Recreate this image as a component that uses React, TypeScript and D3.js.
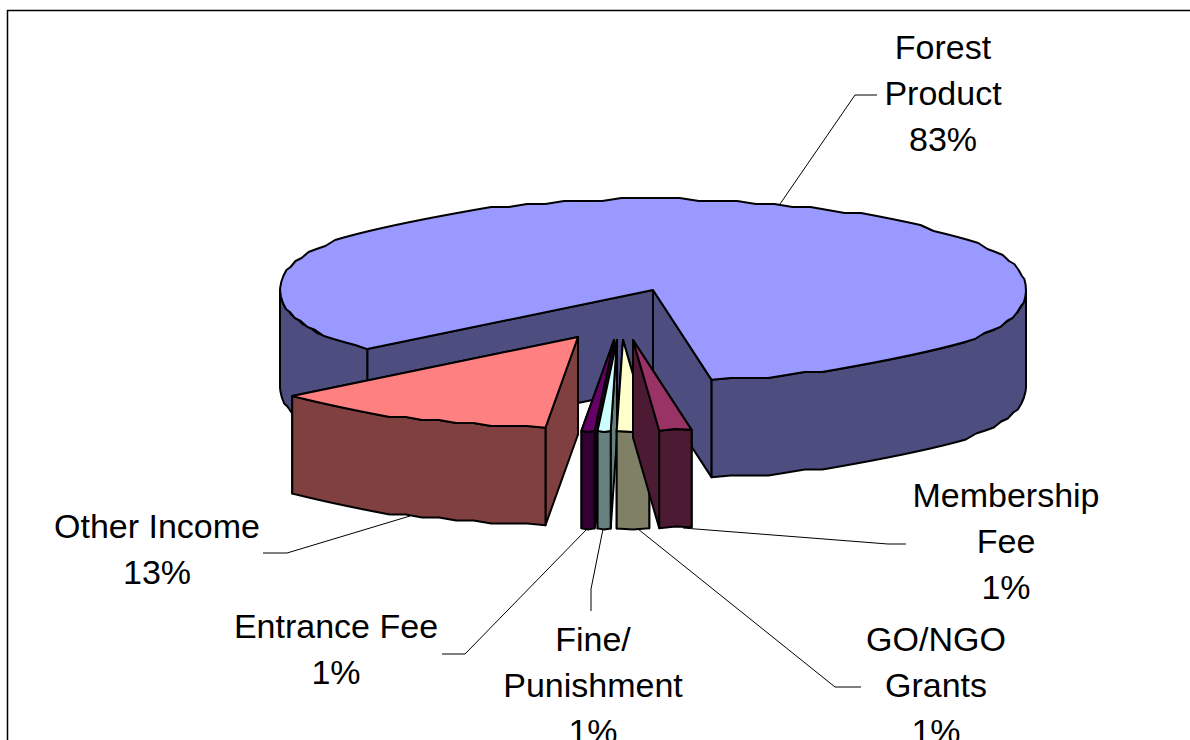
import React from "react";
import * as d3 from "d3";

const sliceNames = ["Forest Product", "Membership Fee", "GO/NGO Grants", "Fine/Punishment", "Entrance Fee", "Other Income"];
const sliceValues = [83.6, 1.39, 1.39, 0.56, 0.56, 12.5];
const labelLines = [
  ["Forest", "Product", "83%"],
  ["Membership", "Fee", "1%"],
  ["GO/NGO", "Grants", "1%"],
  ["Fine/", "Punishment", "1%"],
  ["Entrance Fee", "1%"],
  ["Other Income", "13%"],
];
const topColors = ["#9999ff", "#993366", "#ffffcc", "#ccffff", "#660066", "#ff8080"];
const sideColors = ["#4d4d80", "#4d1a33", "#808066", "#668080", "#330033", "#804040"];

// layout (unit-circle coordinates are mapped by the scales below)
const cx = 653, cy = 290, rx = 373, ry = 91, depth = 97.5;
const explode: [number, number][] = [[0, 0], [-20, 50], [-30, 50], [-36, 50], [-39, 50], [-75, 47]];
const labelPos: [number, number][] = [[943, 59], [1006, 507], [936, 651], [593, 651], [336, 638], [157, 538]];
const leaders: [number, number][][] = [
  [[780, 204], [855, 95], [877, 95]],
  [[683, 528], [888, 544], [906, 544]],
  [[638, 529], [835, 687], [861, 687]],
  [[603, 529], [591, 589], [591, 611]],
  [[587, 529], [465, 654], [442, 654]],
  [[410, 516], [287, 553], [263, 553]],
];

const xScale = d3.scaleLinear().domain([-1, 1]).range([cx - rx, cx + rx]);
const yScale = d3.scaleLinear().domain([-1, 1]).range([cy - ry, cy + ry]);
const pie = d3.pie<number>().sort(null).startAngle((230 * Math.PI) / 180).endAngle((590 * Math.PI) / 180);
const line = d3.line();

const snap = (v: number) => Math.round(v / 3) * 3;
const TAU = Math.PI * 2;

function rimPoint(a: number, ox: number, oy: number): [number, number] {
  const s = Math.sin(a), c = Math.cos(a);
  return [xScale(s) + ox, yScale(-c * (1 + 0.15 * Math.pow(Math.abs(s), 10))) + oy];
}

function arcPoints(a0: number, a1: number, ox: number, oy: number): [number, number][] {
  const n = Math.max(2, Math.ceil(((a1 - a0) * 180) / Math.PI / 3));
  return d3.range(n + 1).map((i) => {
    const [x, y] = rimPoint(a0 + ((a1 - a0) * i) / n, ox, oy);
    return i === 0 || i === n ? [x, y] : [x, snap(y)];
  });
}

// parts of [a0, a1] on the near half of the rim (90deg to 270deg, repeating)
function frontRanges(a0: number, a1: number): [number, number][] {
  const out: [number, number][] = [];
  for (let k = -1; k <= 2; k++) {
    const s = Math.max(a0, Math.PI / 2 + k * TAU);
    const e = Math.min(a1, (3 * Math.PI) / 2 + k * TAU);
    if (e > s) out.push([s, e]);
  }
  return out;
}

export default function App() {
  const arcs = pie(sliceValues);
  const drawOrder = [0, 5, 4, 3, 2, 1];
  return (
    <svg width={1190} height={740} style={{ position: "absolute", left: 0, top: 0, display: "block", background: "#fff" }}>
      <path d="M7.5 740V10.5H1190" fill="none" stroke="#000" strokeWidth={1.5} />
      {drawOrder.map((i) => {
        const d = arcs[i];
        const [ex, ey] = explode[i];
        const ax = xScale(0) + ex, ay = yScale(0) + ey;
        const top = arcPoints(d.startAngle, d.endAngle, ex, ey);
        const corners = [top[0], top[top.length - 1]].sort((p, q) => p[1] - q[1]);
        const wall = (p: [number, number]): [number, number][] => [[ax, ay], p, [p[0], p[1] + depth], [ax, ay + depth]];
        const sty = { fill: sideColors[i], stroke: "#000", strokeWidth: 2, strokeLinejoin: "round" as const };
        return (
          <g key={sliceNames[i]}>
            {corners.map((p, k) => (
              <path key={"w" + k} d={line(wall(p)) + "Z"} {...sty} />
            ))}
            {frontRanges(d.startAngle, d.endAngle).map(([s, e], k) => {
              const rim = arcPoints(s, e, ex, ey);
              const low = rim.map(([x, y]) => [x, y + depth] as [number, number]).reverse();
              return <path key={k} d={line([...rim, ...low]) + "Z"} {...sty} />;
            })}
            <path d={line([[ax, ay], ...top]) + "Z"} {...sty} fill={topColors[i]} />
          </g>
        );
      })}
      {leaders.map((l, i) => (
        <path key={i} d={line(l) ?? ""} fill="none" stroke="#000" strokeWidth={1} />
      ))}
      {labelLines.map((lines, i) =>
        lines.map((t, j) => (
          <text key={t + j} x={labelPos[i][0]} y={labelPos[i][1] + j * 46} textAnchor="middle"
            fontFamily="'Liberation Sans', Arial, sans-serif" fontSize={34} fill="#000">{t}</text>
        ))
      )}
    </svg>
  );
}
